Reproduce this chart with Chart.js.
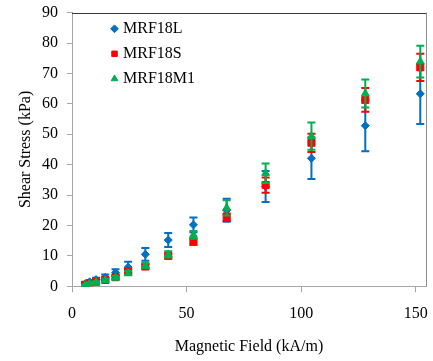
<!DOCTYPE html>
<html>
<head>
<meta charset="utf-8">
<script src="https://cdn.jsdelivr.net/npm/chart.js@4"></script>
<style>
  html, body { margin: 0; padding: 0; background: #fff; }
</style>
</head>
<body>
<canvas id="chart" width="433" height="361"></canvas>
<script>
// magnetic field (kA/m), same for all three fluids
const field = [5.7, 7.7, 10.5, 14.5, 19, 24.5, 32, 42, 53, 67.5, 84.5, 104.5, 128, 152];

// shear stress (kPa) and +/- error
const stressL   = [0.8, 1.5, 2.2, 3.0, 4.5, 6.3, 10.5, 15.2, 20.2, 25.0, 32.8, 42.1, 52.8, 63.3];
const errL      = [0.5, 0.6, 0.6, 0.9, 1.1, 1.8, 2.1, 2.3, 2.4, 3.8, 5.1, 6.8, 8.4, 9.9];
const stressS   = [0.5, 1.0, 1.5, 2.1, 3.0, 4.8, 6.5, 10.0, 14.7, 22.7, 33.3, 47.2, 61.3, 72.0];
const errS      = [0.3, 0.4, 0.5, 0.5, 0.6, 0.8, 0.8, 0.8, 1.0, 1.2, 2.5, 3.0, 3.9, 4.5];
const stressM1  = [0.4, 0.9, 1.3, 2.0, 2.8, 4.3, 6.8, 10.5, 16.9, 25.8, 37.2, 49.4, 63.4, 73.9];
const errM1     = [0.3, 0.4, 0.4, 0.5, 0.6, 0.7, 0.9, 1.0, 1.3, 2.5, 3.2, 4.5, 4.6, 5.2];

const xTicks = [0, 50, 100, 150];
const yTicks = [0, 10, 20, 30, 40, 50, 60, 70, 80, 90];

const pts = (ys) => field.map((x, i) => ({x: x, y: ys[i]}));

const FONT = "'Liberation Serif', 'Times New Roman', serif";
const AXIS = '#a6a6a6';

// draws the +/- bars right before each dataset's markers
const errorBars = {
  id: 'errorBars',
  beforeDatasetDraw(chart, args) {
    const ds = chart.data.datasets[args.index];
    if (!ds.errors) return;
    const yScale = chart.scales.y;
    const ctx = chart.ctx;
    ctx.save();
    ctx.strokeStyle = ds.backgroundColor;
    ctx.lineWidth = 2;
    args.meta.data.forEach((pt, i) => {
      const v = ds.data[i].y, e = ds.errors[i];
      const top = yScale.getPixelForValue(v + e);
      const bot = yScale.getPixelForValue(v - e);
      ctx.beginPath();
      ctx.moveTo(pt.x, top); ctx.lineTo(pt.x, bot);
      ctx.moveTo(pt.x - 4, top); ctx.lineTo(pt.x + 4, top);
      ctx.moveTo(pt.x - 4, bot); ctx.lineTo(pt.x + 4, bot);
      ctx.stroke();
    });
    ctx.restore();
  }
};

// top and right edges of the plot box
const frame = {
  id: 'frame',
  afterDatasetsDraw(chart) {
    const {ctx, chartArea: a} = chart;
    ctx.save();
    ctx.lineWidth = 1;
    ctx.strokeStyle = '#3a3a3a';
    ctx.beginPath();
    ctx.moveTo(a.left, Math.round(a.top) + 0.5);
    ctx.lineTo(a.right, Math.round(a.top) + 0.5);
    ctx.stroke();
    ctx.strokeStyle = '#8c8c8c';
    ctx.beginPath();
    ctx.moveTo(Math.round(a.right) + 0.5, a.top);
    ctx.lineTo(Math.round(a.right) + 0.5, a.bottom);
    ctx.stroke();
    ctx.restore();
  }
};

// legend sits inside the plot, top-left corner
const legendShift = {
  id: 'legendShift',
  afterLayout(chart) {
    const lg = chart.legend, a = chart.chartArea;
    const w = lg.right - lg.left, h = lg.bottom - lg.top;
    lg.left = a.left + 33;
    lg.top = a.top - 0.8;
    lg.right = lg.left + w;
    lg.bottom = lg.top + h;
  }
};

new Chart(document.getElementById('chart'), {
  type: 'scatter',
  data: {
    datasets: [
      {
        label: 'MRF18L', data: pts(stressL), errors: errL,
        backgroundColor: '#0070C0', borderColor: '#0070C0',
        pointStyle: 'rectRot', pointRadius: 4, borderWidth: 1, order: 3
      },
      {
        label: 'MRF18S', data: pts(stressS), errors: errS,
        backgroundColor: '#FF0000', borderColor: '#FF0000',
        pointStyle: 'rect', pointRadius: 5, borderWidth: 1, order: 2
      },
      {
        label: 'MRF18M1', data: pts(stressM1), errors: errM1,
        backgroundColor: '#00B050', borderColor: '#00B050',
        pointStyle: 'triangle', pointRadius: 4.5, borderWidth: 1, order: 1
      }
    ]
  },
  options: {
    responsive: false,
    animation: false,
    layout: { padding: { top: 12.6, right: 7, left: 0, bottom: 0 } },
    scales: {
      x: {
        type: 'linear', min: 0, max: 154.5,
        afterBuildTicks(scale) { scale.ticks = xTicks.map(v => ({value: v})); },
        afterFit(scale) { scale.height = 74.7; scale.paddingLeft = 0; scale.paddingRight = 0; },
        grid: { drawOnChartArea: false, tickLength: 6, color: AXIS },
        border: { color: AXIS },
        ticks: { color: '#000', padding: 12, font: { family: FONT, size: 16 } },
        title: {
          display: true, text: 'Magnetic Field (kA/m)', color: '#000',
          padding: { top: 0, bottom: 4.8 }, font: { family: FONT, size: 16 }
        }
      },
      y: {
        type: 'linear', min: 0, max: 90,
        afterBuildTicks(scale) { scale.ticks = yTicks.map(v => ({value: v})); },
        afterFit(scale) { scale.width = 72; scale.paddingTop = 0; scale.paddingBottom = 0; },
        grid: { drawOnChartArea: false, tickLength: 5, color: AXIS },
        border: { color: AXIS },
        ticks: { color: '#000', padding: 9, font: { family: FONT, size: 16 } },
        title: {
          display: true, text: 'Shear Stress (kPa)', color: '#000',
          padding: { top: 16, bottom: 0 }, font: { family: FONT, size: 16 }
        }
      }
    },
    plugins: {
      tooltip: { enabled: false },
      legend: {
        position: 'chartArea',
        align: 'start',
        labels: {
          usePointStyle: true,
          boxWidth: 1,
          boxHeight: 5.5,
          padding: 9,
          color: '#000',
          font: { family: FONT, size: 16 },
          sort: (a, b) => a.datasetIndex - b.datasetIndex
        }
      }
    }
  },
  plugins: [errorBars, frame, legendShift]
});
</script>
</body>
</html>
